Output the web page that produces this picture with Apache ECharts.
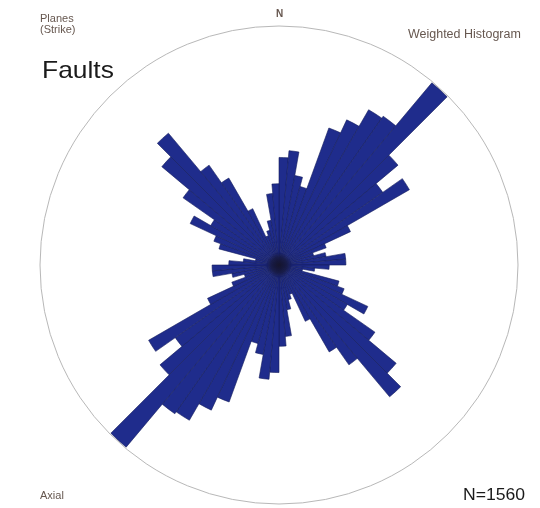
<!DOCTYPE html>
<html>
<head>
<meta charset="utf-8">
<style>
  html, body { margin: 0; padding: 0; background: #ffffff; }
  #chart { width: 540px; height: 508px; }
</style>
<script src="https://cdn.jsdelivr.net/npm/echarts@6/dist/echarts.min.js"></script>
</head>
<body>
<div id="chart"></div>
<script>
// Strike bins, 5 degrees wide, clockwise from north over 0-180 degrees
const binStarts = [
  0, 5, 10, 15, 20, 25, 30, 35, 40, 45, 50, 55,
  60, 65, 70, 75, 80, 85, 90, 95, 100, 105, 110, 115,
  120, 125, 130, 135, 140, 145, 150, 155, 160, 165, 170, 175
];

// Weighted frequency per bin (outer circle = 100)
const binWeights = [
  45, 48, 38, 34, 61, 67, 75, 76, 99.5, 65, 53, 63,
  33, 21, 15, 20, 28, 28, 21, 15, 10, 26, 29, 41,
  33, 49, 64, 72, 51, 42, 26, 13, 15, 19, 30, 34
];

// Axial data: each strike bin is also plotted at its opposite direction
const angleCats = binStarts.concat(binStarts.map(a => a + 180)).map(String);
const roseValues = binWeights.concat(binWeights);

const chart = echarts.init(document.getElementById('chart'), null, { renderer: 'canvas' });

const labelColor = '#66574f';
const fontFamily = '"Liberation Sans", Arial, sans-serif';

function label(x, y, text, size, color, weight, sx) {
  return {
    type: 'text', x: x, y: y, scaleX: sx || 1,
    style: { text: text, font: (weight || '') + ' ' + size + 'px ' + fontFamily, fill: color }
  };
}

chart.setOption({
  animation: false,
  backgroundColor: '#ffffff',
  polar: { center: [279, 265], radius: 239 },
  angleAxis: {
    type: 'category',
    data: angleCats,
    startAngle: 90,
    clockwise: true,
    boundaryGap: true,
    axisLine: { show: true, lineStyle: { color: '#b8b8b8', width: 1 } },
    axisTick: { show: false },
    axisLabel: { show: false },
    splitLine: { show: false }
  },
  radiusAxis: {
    type: 'value',
    min: 0,
    max: 100,
    axisLine: { show: false },
    axisTick: { show: false },
    axisLabel: { show: false },
    splitLine: { show: false }
  },
  series: [{
    type: 'bar',
    coordinateSystem: 'polar',
    data: roseValues,
    barCategoryGap: '0%',
    itemStyle: {
      color: '#1f2c8c',
      borderColor: '#141c5c',
      borderWidth: 0.6
    }
  }],
  graphic: [
    { type: 'circle', shape: { cx: 279, cy: 265, r: 13 },
      style: { fill: new echarts.graphic.RadialGradient(0.5, 0.5, 0.5, [
        { offset: 0, color: 'rgba(22,20,40,0.92)' },
        { offset: 0.6, color: 'rgba(22,22,50,0.6)' },
        { offset: 1, color: 'rgba(20,20,60,0)' }
      ]) }, z: 10 },
    label(40, 14, 'Planes', 10.5, labelColor, '', 1.05),
    label(40, 25, '(Strike)', 10.5, labelColor, '', 1.05),
    label(276, 9, 'N', 10, labelColor, 'bold', 1),
    label(408, 29, 'Weighted Histogram', 12, labelColor, '', 1.04),
    label(42, 59, 'Faults', 24, '#1a1a1a', '', 1.1),
    label(40, 491, 'Axial', 10.5, labelColor, '', 1.05),
    label(463, 488, 'N=1560', 16, '#1a1a1a', '', 1.1)
  ]
});
</script>
</body>
</html>
